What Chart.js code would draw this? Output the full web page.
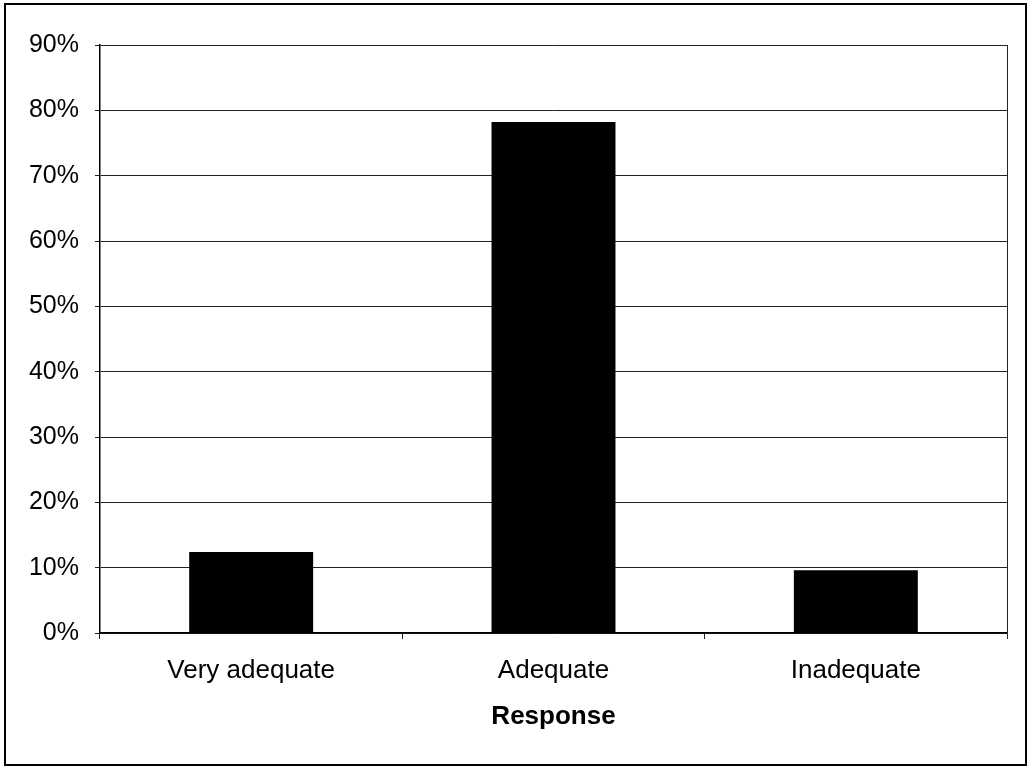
<!DOCTYPE html>
<html>
<head>
<meta charset="utf-8">
<script src="https://cdn.jsdelivr.net/npm/chart.js@4/dist/chart.umd.min.js"></script>
<style>
  body { margin: 0; background: #fff; }
  canvas { display: block; }
</style>
</head>
<body>
<canvas id="responseChart" width="1029" height="767"></canvas>
<script>
// Response to adequacy question (share of respondents)

const categories = ["Very adequate", "Adequate", "Inadequate"];
const shares = [12.4, 78.2, 9.6];
const yTicks = [0, 10, 20, 30, 40, 50, 60, 70, 80, 90];

const fontFamily = "'Liberation Sans', Arial, Helvetica, sans-serif";

// outer frame + plot area box
const frames = {
	id: "frames",
	beforeDraw(chart) {
		const ctx = chart.ctx;
		ctx.save();
		ctx.fillStyle = "#fff";
		ctx.fillRect(0, 0, chart.width, chart.height);
		ctx.restore();
	},
	afterDraw(chart) {
		const ctx = chart.ctx;
		const a = chart.chartArea;
		ctx.save();
		ctx.strokeStyle = "#000";
		ctx.lineWidth = 2;
		ctx.strokeRect(5, 4, 1021, 761);
		ctx.lineWidth = 1;
		ctx.strokeStyle = "#222";
		ctx.beginPath();
		ctx.moveTo(Math.round(a.right) + 0.5, a.top);
		ctx.lineTo(Math.round(a.right) + 0.5, a.bottom);
		ctx.stroke();
		ctx.restore();
	},
};

const data = {
	labels: categories,
	datasets: [
		{
			label: "Response",
			data: shares,
			backgroundColor: "#000",
			borderWidth: 0,
			barPercentage: 0.41,
			categoryPercentage: 1,
		},
	],
};

const config = {
	type: "bar",
	data: data,
	plugins: [frames],
	options: {
		responsive: false,
		animation: false,
		layout: { padding: { top: 45, right: 22, bottom: 0, left: 0 } },
		plugins: {
			legend: { display: false },
			tooltip: { enabled: false },
		},
		scales: {
			x: {
				afterFit(scale) { scale.height = 134; },
				grid: {
					offset: true,
					drawOnChartArea: false,
					drawTicks: true,
					tickLength: 6,
					color: "#222",
				},
				border: { display: true, color: "#000", width: 1.5 },
				ticks: {
					padding: 16,
					color: "#000",
					font: { family: fontFamily, size: 26 },
					maxRotation: 0,
				},
				title: {
					display: true,
					text: "Response",
					color: "#000",
					font: { family: fontFamily, size: 26, weight: "bold" },
					padding: { top: 0, bottom: 35 },
				},
			},
			y: {
				min: 0,
				max: 90,
				afterFit(scale) { scale.width = 100; },
				afterBuildTicks(scale) {
					scale.ticks = yTicks.map((v) => ({ value: v }));
				},
				grid: {
					color: "#222",
					lineWidth: 1,
					tickLength: 5,
				},
				border: { display: true, color: "#000", width: 1.5 },
				ticks: {
					padding: 16,
					color: "#000",
					font: { family: fontFamily, size: 25 },
					callback: (v) => v + "%",
				},
			},
		},
	},
};

const responseChart = new Chart(
	document.getElementById("responseChart"),
	config
);
</script>
</body>
</html>
